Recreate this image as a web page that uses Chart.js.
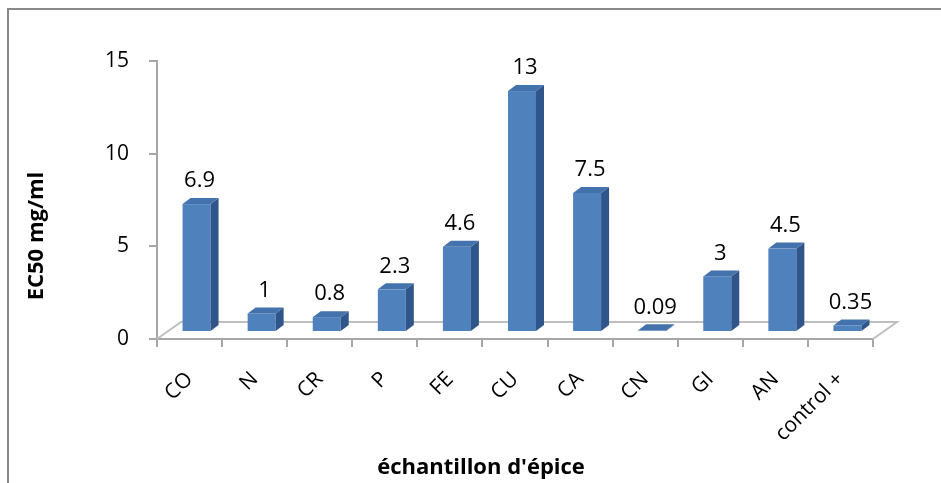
<!DOCTYPE html>
<html>
<head>
<meta charset="utf-8">
<script src="https://cdn.jsdelivr.net/npm/chart.js@4"></script>
<style>
  html, body { margin: 0; padding: 0; background: #ffffff; }
  #wrap { width: 941px; height: 483px; position: relative; }
</style>
</head>
<body>
<div id="wrap"><canvas id="chart" width="941" height="483"></canvas></div>
<script>
// Spice samples and their EC50 values (mg/ml)
const categories = ['CO', 'N', 'CR', 'P', 'FE', 'CU', 'CA', 'CN', 'GI', 'AN', 'control +'];
const ec50Values = [6.9, 1, 0.8, 2.3, 4.6, 13, 7.5, 0.09, 3, 4.5, 0.35];
const valueLabels = ['6.9', '1', '0.8', '2.3', '4.6', '13', '7.5', '0.09', '3', '4.5', '0.35'];
const yTicks = [0, 5, 10, 15];

const FONT = "'Open Sans', 'DejaVu Sans', sans-serif";
const AXIS_GREY = '#a6a6a6';
const FLOOR_GREY = '#bfbfbf';
const FRONT = '#4f81bd';
const SIDE = '#30558a';
const TOP = '#4472ad';

// depth of the floor and of each bar (pseudo 3D)
const FLOOR_DX = 24, FLOOR_DY = -17;
const BAR_SHIFT_X = 7, BAR_SHIFT_Y = -7;
const BAR_DX = 8, BAR_DY = -6;

const depthPlugin = {
  id: 'depth',
  beforeDraw(chart) {
    const ctx = chart.ctx;
    ctx.save();
    ctx.fillStyle = '#ffffff';
    ctx.fillRect(0, 0, chart.width, chart.height);
    // outer frame
    ctx.strokeStyle = '#898989';
    ctx.lineWidth = 2;
    ctx.strokeRect(8, 9, chart.width + 10, chart.height + 10);
    ctx.restore();
  },
  beforeDatasetsDraw(chart) {
    const ctx = chart.ctx;
    const a = chart.chartArea;
    const y0 = chart.scales.y.getPixelForValue(0);
    ctx.save();
    ctx.strokeStyle = FLOOR_GREY;
    ctx.lineWidth = 2;
    ctx.beginPath();
    ctx.moveTo(a.left, y0);
    ctx.lineTo(a.left + FLOOR_DX, y0 + FLOOR_DY);
    ctx.lineTo(a.right + FLOOR_DX, y0 + FLOOR_DY);
    ctx.lineTo(a.right, y0);
    ctx.stroke();
    ctx.restore();
  },
  afterDatasetsDraw(chart) {
    const ctx = chart.ctx;
    const meta = chart.getDatasetMeta(0);
    ctx.save();
    ctx.translate(BAR_SHIFT_X, BAR_SHIFT_Y);
    meta.data.forEach((bar, i) => {
      const p = bar.getProps(['x', 'y', 'base', 'width'], true);
      const l = p.x - p.width / 2, r = p.x + p.width / 2;
      const t = p.y, b = p.base;
      // front
      ctx.fillStyle = FRONT;
      ctx.fillRect(l, t, r - l, b - t);
      // side
      ctx.fillStyle = SIDE;
      ctx.beginPath();
      ctx.moveTo(r, t);
      ctx.lineTo(r + BAR_DX, t + BAR_DY);
      ctx.lineTo(r + BAR_DX, b + BAR_DY);
      ctx.lineTo(r, b);
      ctx.closePath();
      ctx.fill();
      // top
      ctx.fillStyle = TOP;
      ctx.beginPath();
      ctx.moveTo(l, t);
      ctx.lineTo(l + BAR_DX, t + BAR_DY);
      ctx.lineTo(r + BAR_DX, t + BAR_DY);
      ctx.lineTo(r, t);
      ctx.closePath();
      ctx.fill();
      // value label
      ctx.fillStyle = '#000000';
      ctx.font = '22px ' + FONT;
      ctx.textAlign = 'center';
      ctx.textBaseline = 'middle';
      ctx.fillText(valueLabels[i], p.x + 3, t - 23);
    });
    ctx.restore();

    // axis titles
    ctx.save();
    ctx.fillStyle = '#000000';
    ctx.font = 'bold 22px ' + FONT;
    ctx.textAlign = 'center';
    ctx.textBaseline = 'middle';
    ctx.fillText("échantillon d'épice", 481, 468);
    ctx.translate(37, 236);
    ctx.rotate(-Math.PI / 2);
    ctx.fillText('EC50 mg/ml', 0, 0);
    ctx.restore();
  }
};

new Chart(document.getElementById('chart'), {
  type: 'bar',
  data: {
    labels: categories,
    datasets: [{
      data: ec50Values,
      backgroundColor: 'rgba(0,0,0,0)',
      borderWidth: 0,
      barPercentage: 0.43,
      categoryPercentage: 1
    }]
  },
  options: {
    responsive: false,
    devicePixelRatio: 1,
    animation: false,
    events: [],
    layout: { padding: { left: 0, right: 68, top: 61, bottom: 0 } },
    plugins: { legend: { display: false }, tooltip: { enabled: false } },
    scales: {
      x: {
        offset: true,
        grid: {
          offset: true,
          drawOnChartArea: false,
          drawTicks: true,
          tickLength: 8,
          color: AXIS_GREY,
          lineWidth: 2
        },
        border: { color: AXIS_GREY, width: 2 },
        ticks: {
          autoSkip: false,
          minRotation: 45,
          maxRotation: 45,
          padding: 20,
          color: '#000000',
          font: { family: FONT, size: 21 }
        },
        afterFit(scale) { scale.height = 144; }
      },
      y: {
        min: 0,
        max: 15,
        afterBuildTicks(scale) { scale.ticks = yTicks.map(v => ({ value: v })); },
        grid: {
          drawOnChartArea: false,
          drawTicks: true,
          tickLength: 8,
          color: AXIS_GREY,
          lineWidth: 2
        },
        border: { color: AXIS_GREY, width: 2 },
        ticks: {
          padding: 20,
          color: '#000000',
          font: { family: FONT, size: 21 }
        },
        afterFit(scale) { scale.width = 157; }
      }
    }
  },
  plugins: [depthPlugin]
});
</script>
</body>
</html>
